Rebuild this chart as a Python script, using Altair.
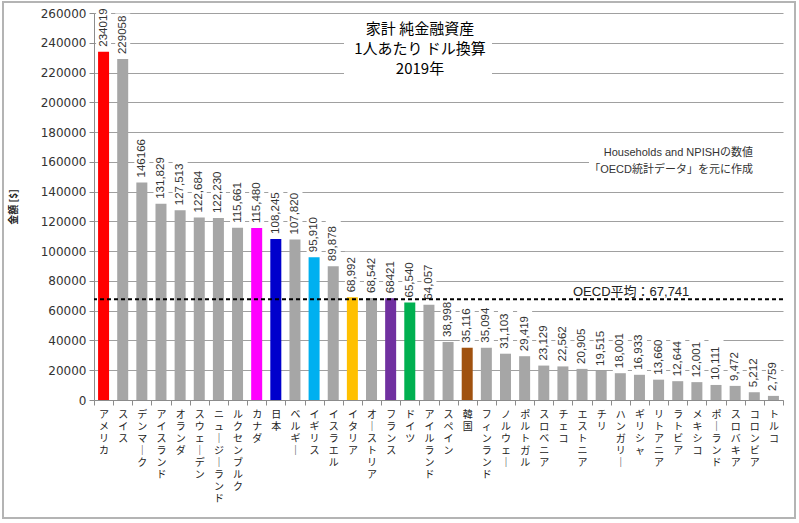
import altair as alt
import pandas as pd

# ---------------- data ----------------
countries = [
    "アメリカ", "スイス", "デンマーク", "アイスランド", "オランダ", "スウェーデン",
    "ニュージーランド", "ルクセンブルク", "カナダ", "日本", "ベルギー", "イギリス",
    "イスラエル", "イタリア", "オーストリア", "フランス", "ドイツ", "アイルランド",
    "スペイン", "韓国", "フィンランド", "ノルウェー", "ポルトガル", "スロベニア",
    "チェコ", "エストニア", "チリ", "ハンガリー", "ギリシャ", "リトアニア",
    "ラトビア", "メキシコ", "ポーランド", "スロバキア", "コロンビア", "トルコ",
]
values = [
    234019, 229058, 146166, 131829, 127513, 122684,
    122230, 115661, 115480, 108245, 107820, 95910,
    89878, 68992, 68542, 68421, 65540, 64057,
    38998, 35116, 35094, 31103, 29419, 23129,
    22562, 20905, 19515, 18001, 16933, 13660,
    12644, 12001, 10111, 9472, 5212, 2759,
]
value_labels = [
    "234019", "229058", "146166", "131,829", "127,513", "122,684",
    "122,230", "115,661", "115,480", "108,245", "107,820", "95,910",
    "89,878", "68,992", "68,542", "68421", "65,540", "64,057",
    "38,998", "35,116", "35,094", "31,103", "29,419", "23,129",
    "22,562", "20,905", "19,515", "18,001", "16,933", "13,660",
    "12,644", "12,001", "10,111", "9,472", "5,212", "2,759",
]
oecd_average = 67741
title_lines = ["家計 純金融資産", "1人あたり ドル換算", "2019年"]
note_lines = ["Households and NPISHの数値", "「OECD統計データ」を元に作成"]
y_ticks = [0, 20000, 40000, 60000, 80000, 100000, 120000, 140000,
           160000, 180000, 200000, 220000, 240000, 260000]
highlight_countries = ["アメリカ", "カナダ", "日本", "イギリス", "イタリア",
                       "フランス", "ドイツ", "韓国"]
highlight_colors = ["#ff0000", "#ff00ff", "#0000cc", "#00b0f0", "#ffc000",
                    "#7030a0", "#00b050", "#a0520f"]
other_label = "その他"
other_color = "#a6a6a6"

# ---------------- chart ----------------
W, H = 689, 387
YMAX = 260000
UPX = YMAX / H  # data units per pixel

df = pd.DataFrame({"country": countries, "value": values, "label": value_labels})
# vertical-writing form of the long vowel mark for the stacked axis labels
df["vlabel"] = [c.replace("ー", "｜") for c in countries]
df["group"] = [c if c in highlight_countries else other_label for c in countries]

JP = "Noto Sans CJK JP"
NUM = "Liberation Sans, Noto Sans CJK JP"

x_axis = alt.Axis(
    title=None, labelAngle=0,
    labelExpr="split(datum.label, '')",
    labelFont=JP, labelFontSize=10, labelLineHeight=12, labelColor="#222",
    labelBaseline="top", labelPadding=4, labelOverlap=False,
    ticks=True, tickBand="extent", tickSize=5, tickColor="#8c8c8c",
    domainColor="#8c8c8c", grid=False,
)
x_enc = alt.X("vlabel:N", sort=None,
              scale=alt.Scale(paddingInner=0, paddingOuter=0), axis=x_axis)

y_scale = alt.Scale(domain=[0, YMAX], nice=False, zero=True)
y_axis = alt.Axis(
    values=y_ticks, format="d", title="金額 [$]", labelOverlap=False,
    titleFont=JP, titleFontSize=10, titleFontWeight="bold", titleColor="#222",
    titleX=-76, titleY=H / 2, titleAngle=270,
    labelFont="DejaVu Sans", labelFontSize=12, labelColor="#333", labelPadding=3,
    grid=True, gridColor="#a0a0a0", gridWidth=1,
    tickSize=5, tickColor="#8c8c8c", domainColor="#8c8c8c",
)


def yq(field):
    return alt.Y(field, scale=y_scale, axis=y_axis)


base = alt.Chart(df)
one = pd.DataFrame({"a": [0]})

frame = alt.Chart(one).mark_rect(fillOpacity=0, stroke="#b4b4b4", strokeWidth=2).encode(
    x=alt.value(-91), x2=alt.value(701), y=alt.value(-11), y2=alt.value(505)
)

label_masks = base.transform_calculate(
    m0=f"datum.value + 2*{UPX}",
    m1=f"datum.value + (9 + length(datum.label)*6.1)*{UPX}",
).mark_bar(size=15, color="white").encode(
    x=x_enc, y=yq("m0:Q"), y2="m1:Q"
)

bars = base.mark_bar(size=11).encode(
    x=x_enc, y=yq("value:Q"),
    color=alt.Color("group:N", legend=None,
                    scale=alt.Scale(domain=highlight_countries + [other_label],
                                    range=highlight_colors + [other_color])),
)

labels = base.mark_text(angle=270, align="left", baseline="middle", dx=5,
                        font=NUM, fontSize=11.5, color="#333").encode(
    x=x_enc, y=yq("value:Q"), text="label:N"
)

avg_df = pd.DataFrame({"v": [oecd_average]})
avg_rule = alt.Chart(avg_df).mark_rule(color="black", strokeWidth=2, strokeDash=[4, 3]).encode(
    y=yq("v:Q")
)

title_mask = alt.Chart(one).mark_rect(color="white").encode(
    x=alt.value(250), x2=alt.value(398), y=alt.value(5), y2=alt.value(68)
)
title_text = alt.Chart(one).mark_text(
    text=title_lines, font=JP, fontSize=15, lineHeight=20, align="center",
    baseline="top", color="black"
).encode(x=alt.value(326), y=alt.value(9))

note_mask = alt.Chart(one).mark_rect(color="white").encode(
    x=alt.value(495), x2=alt.value(690), y=alt.value(144), y2=alt.value(154)
)
note_text = alt.Chart(one).mark_text(
    text=note_lines, font=NUM, fontSize=11, lineHeight=17, align="right",
    baseline="middle", color="#333"
).encode(x=alt.value(659), y=alt.value(140))

avg_mask = alt.Chart(one).mark_rect(color="white").encode(
    x=alt.value(470), x2=alt.value(602), y=alt.value(273), y2=alt.value(289)
)
avg_text = alt.Chart(avg_df).transform_calculate(
    t="'OECD平均：' + format(datum.v, ',')"
).mark_text(font=NUM, fontSize=13, align="left", baseline="middle", color="#222").encode(
    x=alt.value(479), y=alt.value(279), text="t:N"
)

chart = alt.layer(
    bars, frame, label_masks, title_mask, note_mask, avg_mask,
    labels, avg_rule, title_text, note_text, avg_text,
).properties(
    width=W, height=H,
    padding={"left": 94, "top": 13, "right": 16, "bottom": 123},
    autosize=alt.AutoSizeParams(type="none"),
    background="white",
).configure_view(strokeWidth=0)

chart.save("out.html", embed_options={"renderer": "svg", "actions": False})
